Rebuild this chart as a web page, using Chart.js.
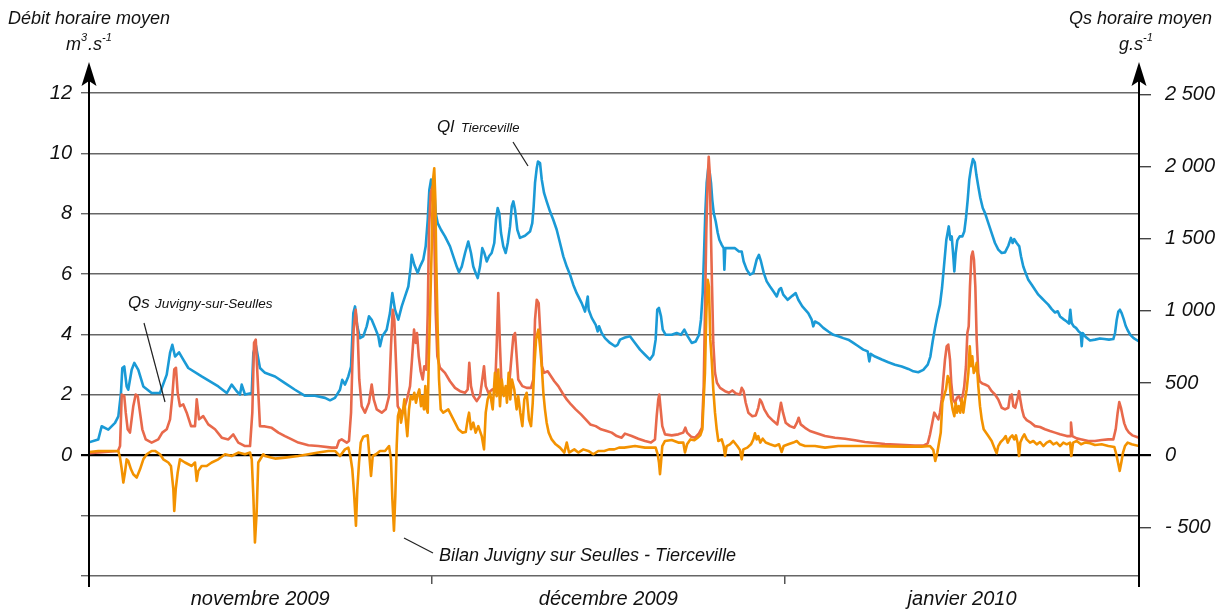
<!DOCTYPE html>
<html>
<head>
<meta charset="utf-8">
<title>Débit et flux Seulles</title>
<script src="https://cdn.jsdelivr.net/npm/chart.js@4/dist/chart.umd.min.js"></script>
<style>
  html, body { margin: 0; padding: 0; background: #fff; }
</style>
</head>
<body>
<canvas id="seullesChart" width="1229" height="612"></canvas>
<script>
// temps en jours depuis le 1er novembre 2009
const qlDays = [0,0.81,1.11,1.69,2.28,2.57,2.80,2.92,3.09,3.30,3.44,3.74,3.97,4.32,4.76,5.49,6.22,6.81,7.10,7.30,7.54,7.89,8.26,8.70,9.87,11.33,12.07,12.50,12.94,13.23,13.38,13.67,14.26,14.40,14.61,14.98,15.42,16.30,17.17,18.05,18.93,19.80,20.68,21.12,21.55,21.99,22.19,22.43,22.72,22.96,23.16,23.31,23.51,23.74,24.03,24.33,24.53,24.77,25.06,25.35,25.50,25.70,26.08,26.37,26.58,26.81,27.10,27.40,27.69,27.98,28.19,28.27,28.50,28.80,29.00,29.29,29.50,29.68,29.82,29.97,30.12,30.23,30.38,30.55,30.84,31.19,31.63,31.92,32.22,32.42,32.66,32.95,33.23,33.47,33.67,33.88,34.06,34.26,34.46,34.64,34.85,35.05,35.28,35.51,35.66,35.81,35.95,36.10,36.30,36.51,36.69,36.89,37.04,37.18,37.33,37.53,37.76,38.20,38.64,38.84,38.96,39.08,39.23,39.34,39.52,39.67,39.87,40.10,40.39,40.68,40.98,41.27,41.56,41.86,42.15,42.43,42.73,43.17,43.46,43.70,43.78,44.05,44.40,44.57,44.69,44.92,45.21,45.65,46.09,46.32,46.53,46.96,47.40,47.84,48.28,48.72,49.15,49.44,49.65,49.79,49.94,50.12,50.27,50.53,51.06,51.49,51.87,52.16,52.46,52.81,53.16,53.45,53.62,53.77,53.89,54.00,54.12,54.26,54.39,54.50,54.61,54.74,54.91,55.09,55.23,55.44,55.61,55.67,55.75,56.16,56.60,56.95,57.19,57.36,57.63,57.92,58.21,58.50,58.70,58.88,59.12,59.38,59.67,59.96,60.26,60.46,60.63,60.83,61.22,61.62,61.92,62.15,62.50,63.02,63.32,63.46,63.61,63.96,64.34,64.78,65.22,65.65,66.09,66.53,66.97,67.41,67.84,68.23,68.37,68.49,68.87,69.46,70.03,70.62,71.21,71.79,72.23,72.66,73.10,73.49,73.72,73.92,74.13,74.36,74.56,74.74,74.91,75.12,75.33,75.47,75.59,75.73,75.82,75.94,76.08,76.29,76.52,76.69,76.84,76.99,77.13,77.28,77.45,77.61,77.75,77.92,78.10,78.31,78.51,78.80,79.09,79.38,79.67,79.97,80.26,80.55,80.78,80.93,81.07,81.28,81.51,81.66,81.86,82.07,82.30,82.60,82.89,83.18,83.47,83.76,84.05,84.35,84.64,84.88,85.08,85.37,85.67,85.87,85.98,86.10,86.28,86.48,86.72,86.89,86.98,87.07,87.33,87.71,88.14,88.58,88.96,89.37,89.75,89.90,90.05,90.19,90.33,90.48,90.66,90.83,91.01,91.24,91.53,92.00];
// Ql Tierceville, m3/s
const qlFlow = [0.43,0.52,0.96,0.85,1.07,1.29,2.06,2.89,2.94,2.28,2.17,2.83,3.06,2.83,2.28,2.06,2.06,2.67,3.39,3.66,3.27,3.41,3.17,2.89,2.61,2.28,2.06,2.34,2.12,2.01,2.34,2.01,2.06,3.39,3.66,2.89,2.73,2.61,2.39,2.17,1.97,1.97,1.90,1.82,1.90,2.17,2.50,2.34,2.61,2.94,4.71,4.93,4.27,3.88,3.94,4.27,4.60,4.49,4.22,3.94,3.61,3.94,4.16,4.71,5.37,4.82,4.49,4.93,5.26,5.59,6.25,6.64,6.31,6.04,6.25,6.48,6.92,7.80,8.79,9.13,8.69,8.90,8.02,7.69,7.47,7.25,6.92,6.59,6.25,6.06,6.25,6.70,7.08,6.70,6.25,6.04,5.87,6.25,6.86,6.70,6.42,6.59,6.70,7.03,7.80,8.19,8.02,7.36,6.92,6.70,7.03,7.58,8.24,8.41,8.13,7.47,7.20,7.27,7.41,7.69,8.24,9.02,9.51,9.73,9.68,9.13,8.69,8.41,8.08,7.80,7.47,7.03,6.59,6.25,5.98,5.65,5.37,5.04,4.76,5.26,4.82,4.55,4.32,4.10,4.27,4.05,3.88,3.72,3.61,3.66,3.83,3.90,3.94,3.72,3.50,3.33,3.17,3.33,3.83,4.82,4.88,4.60,4.16,3.99,3.99,4.05,3.99,4.16,3.94,3.72,3.77,3.99,4.49,5.37,6.70,8.02,9.02,9.51,9.35,9.02,8.46,8.02,7.75,7.36,7.14,6.97,6.86,6.15,6.86,6.86,6.86,6.75,6.75,6.42,6.15,5.98,6.04,6.48,6.64,6.42,6.04,5.76,5.59,5.43,5.26,5.48,5.54,5.32,5.15,5.28,5.37,5.15,4.93,4.71,4.49,4.27,4.43,4.36,4.22,4.10,3.99,3.94,3.88,3.83,3.72,3.61,3.50,3.44,3.11,3.36,3.27,3.17,3.08,3.00,2.94,2.86,2.78,2.75,2.83,3.00,3.27,3.77,4.22,4.66,4.99,5.54,6.25,7.14,7.58,7.14,7.25,6.59,6.09,6.70,7.12,7.25,7.25,7.41,7.86,8.46,9.13,9.51,9.81,9.70,9.29,8.90,8.52,8.19,8.02,7.69,7.36,7.03,6.81,6.70,6.72,6.94,7.20,7.03,7.16,7.03,6.92,6.59,6.25,6.04,5.81,5.65,5.48,5.32,5.21,5.10,4.99,4.84,4.73,4.77,4.60,4.51,4.43,4.36,4.82,4.38,4.27,4.22,4.10,4.05,3.61,4.05,3.92,3.80,3.83,3.87,3.85,3.83,3.85,4.05,4.49,4.76,4.82,4.71,4.51,4.29,4.14,3.99,3.88,3.77];

const qsDays = [0,2.54,2.72,2.87,3.09,3.22,3.39,3.59,3.88,4.09,4.27,4.47,4.67,4.97,5.49,6.07,6.42,6.81,7.10,7.30,7.47,7.62,7.77,7.97,8.26,8.56,8.94,9.29,9.44,9.64,10.01,10.45,11.04,11.63,12.21,12.64,13.08,13.67,14.11,14.31,14.46,14.61,14.78,14.98,15.42,16.01,16.59,17.17,17.76,18.34,19.22,20.09,21.27,21.70,21.90,22.14,22.58,22.78,22.96,23.07,23.19,23.37,23.54,23.68,23.89,24.18,24.53,24.77,24.95,25.21,25.65,26.00,26.29,26.46,26.61,26.75,26.90,27.05,27.34,27.63,27.89,28.13,28.30,28.48,28.62,28.74,28.89,29.06,29.24,29.38,29.55,29.68,29.79,29.94,30.08,30.23,30.38,30.52,30.75,31.19,31.63,32.07,32.51,32.95,33.18,33.32,33.47,33.67,33.97,34.26,34.46,34.61,34.76,34.99,35.34,35.57,35.72,35.86,36.01,36.16,36.51,36.80,37.00,37.18,37.33,37.47,37.61,37.97,38.35,38.73,38.93,39.08,39.23,39.40,39.54,39.69,39.87,40.19,40.48,40.77,41.12,41.47,41.86,42.23,42.64,43.11,43.52,43.92,44.40,44.86,45.36,45.80,46.24,46.67,46.96,47.55,48.13,48.72,49.24,49.59,49.74,49.88,49.97,50.09,50.23,50.47,51.06,51.63,52.07,52.25,52.40,52.75,53.10,53.45,53.71,53.86,53.97,54.09,54.21,54.30,54.39,54.47,54.59,54.70,54.85,55.02,55.29,55.73,56.08,56.37,56.69,57.04,57.19,57.36,57.54,57.77,58.12,58.42,58.64,58.79,58.94,59.17,59.52,59.96,60.31,60.48,60.63,60.81,61.04,61.42,61.80,62.03,62.18,62.36,62.74,63.17,63.76,64.49,65.36,66.24,67.12,67.99,68.87,69.74,70.62,71.50,72.37,73.10,73.49,73.69,73.89,74.06,74.24,74.42,74.56,74.71,74.85,75.00,75.15,75.29,75.44,75.55,75.70,75.88,76.05,76.23,76.38,76.55,76.69,76.84,76.96,77.08,77.19,77.31,77.43,77.54,77.66,77.78,77.92,78.04,78.27,78.51,78.80,79.09,79.38,79.67,79.97,80.26,80.55,80.70,80.85,80.99,81.16,81.34,81.49,81.60,81.75,81.92,82.16,82.45,82.89,83.33,83.76,84.20,84.64,85.08,85.67,85.96,86.04,86.16,86.54,86.98,87.56,88.14,88.73,89.31,89.75,89.96,90.13,90.27,90.42,90.57,90.71,90.89,91.12,91.41,92.00];
// Qs Juvigny-sur-Seulles, g/s
const qsFlux = [15,30,64,421,410,295,180,157,340,421,410,295,180,110,88,110,157,180,249,410,594,606,433,340,352,295,202,202,387,249,271,214,180,122,110,145,88,64,64,295,778,801,525,202,200,190,157,133,110,88,69,64,53,53,99,110,88,99,295,617,870,1008,847,525,340,295,364,490,387,318,295,318,410,755,1008,939,640,340,295,329,398,479,663,870,778,847,686,582,525,617,594,985,1561,1814,1860,1630,985,686,606,571,513,467,444,433,456,640,479,410,375,410,525,617,479,433,456,444,755,1124,755,456,433,479,663,824,847,686,525,479,467,467,525,939,1077,1054,847,617,571,582,548,513,479,433,387,352,318,283,249,214,202,180,168,157,133,122,150,133,115,99,88,110,271,387,421,318,202,145,138,145,157,191,157,129,122,152,191,479,985,1561,1906,2067,1952,1630,1169,778,571,502,467,444,433,449,428,421,467,444,364,295,271,276,329,387,368,318,271,237,214,295,364,295,226,202,191,226,260,214,190,168,152,133,122,115,104,92,85,78,74,71,67,67,83,145,226,295,271,249,295,387,525,663,755,767,663,502,387,364,398,410,375,410,479,617,847,893,1169,1376,1411,1354,1169,801,571,513,497,490,479,444,421,387,329,318,329,410,421,340,329,387,444,387,318,267,244,230,202,196,180,168,157,145,133,133,226,133,117,110,99,99,106,110,110,180,295,368,329,271,221,184,157,138,122];

const bilanDays = [0,0.81,2.57,2.72,2.87,3.01,3.15,3.30,3.44,3.68,3.88,4.18,4.47,4.76,5.06,5.49,5.78,6.22,6.51,6.95,7.18,7.39,7.47,7.60,7.77,7.97,8.41,9.00,9.29,9.44,9.58,9.87,10.31,10.75,11.33,11.92,12.50,13.08,13.67,14.11,14.26,14.40,14.54,14.69,14.83,15.27,15.42,16.30,17.17,18.34,19.22,20.09,20.97,21.55,21.99,22.43,22.72,22.90,23.07,23.22,23.39,23.51,23.66,23.81,24.03,24.42,24.59,24.71,24.86,25.15,25.50,25.94,26.29,26.46,26.58,26.72,26.84,26.96,27.07,27.22,27.34,27.49,27.63,27.75,27.89,28.04,28.19,28.36,28.50,28.65,28.80,28.94,29.09,29.20,29.35,29.47,29.59,29.68,29.76,29.88,30.03,30.14,30.25,30.34,30.43,30.55,30.67,30.82,31.04,31.48,31.78,32.07,32.36,32.71,33.01,33.18,33.30,33.47,33.67,33.88,34.11,34.41,34.61,34.76,34.93,35.14,35.37,35.57,35.72,35.86,36.01,36.16,36.34,36.51,36.62,36.77,36.91,37.06,37.26,37.47,37.61,37.79,37.97,38.14,38.35,38.55,38.73,38.88,39.02,39.17,39.37,39.52,39.67,39.81,39.95,40.10,40.28,40.54,40.89,41.27,41.65,41.86,42.06,42.52,42.87,43.31,43.75,44.19,44.62,45.15,45.56,46.03,46.44,46.90,47.84,48.72,49.65,49.83,49.94,50.03,50.12,50.23,50.47,51.06,51.63,52.07,52.22,52.40,52.69,53.04,53.33,53.56,53.74,53.86,53.97,54.09,54.21,54.32,54.44,54.56,54.70,54.85,55.00,55.14,55.44,55.61,55.73,55.87,56.16,56.45,56.80,57.04,57.19,57.33,57.68,58.00,58.21,58.35,58.50,58.64,58.82,59.03,59.29,59.67,60.11,60.46,60.69,60.87,61.27,61.71,62.01,62.30,62.74,63.61,64.49,65.65,67.12,68.58,70.03,71.50,72.96,73.69,73.98,74.15,74.33,74.48,74.63,74.77,74.91,75.09,75.24,75.38,75.53,75.67,75.82,75.94,76.05,76.20,76.34,76.47,76.61,76.76,76.90,77.05,77.17,77.28,77.39,77.52,77.66,77.78,77.92,78.07,78.22,78.39,78.80,79.09,79.38,79.53,79.67,79.88,80.11,80.32,80.50,80.70,80.90,81.07,81.22,81.37,81.49,81.60,81.78,81.95,82.16,82.45,82.74,83.04,83.33,83.62,83.91,84.20,84.49,84.79,85.08,85.37,85.67,85.96,86.07,86.22,86.54,86.92,87.27,87.71,88.14,88.73,89.31,89.84,90.01,90.16,90.31,90.45,90.60,90.77,91.01,91.36,92.00];
// Bilan Juvigny sur Seulles - Tierceville, g/s
const bilanFlux = [23,30,30,-16,-97,-189,-120,-28,-39,-97,-131,-154,-97,-28,7,30,30,7,-28,-50,-74,-235,-385,-235,-120,-28,-50,-74,-50,-177,-108,-74,-74,-50,-28,7,-5,19,7,19,-28,-281,-603,-396,-50,7,-5,-23,-16,-5,7,19,30,30,-5,41,53,-5,-97,-258,-488,-235,-50,88,129,138,-28,-143,-5,7,30,30,64,-28,-304,-523,-281,64,271,318,226,295,387,249,133,318,410,387,433,364,421,456,340,410,318,479,318,295,617,985,1445,1906,1987,1791,1331,870,525,318,295,318,271,226,180,157,161,249,295,180,226,157,202,133,41,295,387,433,318,571,410,594,340,525,410,479,364,571,387,525,456,318,410,295,202,387,433,249,202,364,617,801,870,755,617,433,318,226,157,110,76,53,19,88,19,41,19,41,30,7,30,30,41,41,53,53,64,53,53,7,-50,-131,-50,64,99,106,88,88,19,76,110,104,122,138,180,387,571,985,1215,1169,801,663,456,295,180,99,110,64,-5,64,76,99,64,37,-28,41,53,76,110,152,110,133,88,115,88,76,64,76,23,64,76,88,99,76,64,64,53,64,64,64,62,60,60,64,37,-39,19,88,157,364,410,456,548,525,387,318,271,364,295,340,295,387,295,387,456,571,755,617,686,571,594,640,479,340,249,180,133,99,41,14,64,92,110,133,88,122,138,110,138,83,-5,88,122,145,110,88,99,76,92,64,88,99,76,88,64,88,76,88,-5,88,99,76,88,83,71,76,64,57,7,-50,-108,-50,19,64,88,76,64];

// axes
const monthBounds = [0, 30, 61, 92];
const monthMids = [15, 45.5, 76.5];
const monthNames = ['novembre 2009', 'décembre 2009', 'janvier 2010'];
const leftTicks = [-4, -2, 0, 2, 4, 6, 8, 10, 12];
const rightTicks = [-500, 0, 500, 1000, 1500, 2000, 2500];

const FONT = '"Liberation Sans", Arial, Helvetica, sans-serif';

function toPoints(xs, ys) {
  return xs.map((x, i) => ({x: x, y: ys[i]}));
}

function fmtThousands(v) {
  let s = String(Math.abs(v)).replace(/\B(?=(\d{3})+(?!\d))/g, ' ');
  return v < 0 ? '- ' + s : s;
}

// texte avec exposants : [texte, estExposant]
function drawUnit(ctx, parts, x, y) {
  let cx = x;
  parts.forEach(p => {
    ctx.font = p[1] ? 'italic 11px ' + FONT : 'italic 18px ' + FONT;
    ctx.fillText(p[0], cx, p[1] ? y - 9 : y);
    cx += ctx.measureText(p[0]).width + (p[1] ? 1 : 0);
  });
}

const decorPlugin = {
  id: 'decor',
  afterDraw(chart) {
    const ctx = chart.ctx;
    const a = chart.chartArea;
    ctx.save();

    // axes verticaux avec flèches
    ctx.strokeStyle = '#000';
    ctx.fillStyle = '#000';
    ctx.lineWidth = 2;
    [a.left, a.right].forEach(x => {
      ctx.beginPath();
      ctx.moveTo(x, 78);
      ctx.lineTo(x, 587);
      ctx.stroke();
      ctx.beginPath();
      ctx.moveTo(x, 62);
      ctx.lineTo(x - 7.5, 86);
      ctx.lineTo(x, 81);
      ctx.lineTo(x + 7.5, 86);
      ctx.closePath();
      ctx.fill();
    });

    // titres des axes
    ctx.fillStyle = '#111';
    ctx.textBaseline = 'alphabetic';
    ctx.textAlign = 'left';
    ctx.font = 'italic 18px ' + FONT;
    ctx.fillText('Débit horaire moyen', 8, 24);
    ctx.textAlign = 'right';
    ctx.fillText('Qs horaire moyen', 1212, 24);
    ctx.textAlign = 'left';
    drawUnit(ctx, [['m', 0], ['3', 1], ['.s', 0], ['-1', 1]], 66, 50);
    drawUnit(ctx, [['g.s', 0], ['-1', 1]], 1119, 50);

    // étiquettes des courbes
    ctx.font = 'italic 17px ' + FONT;
    ctx.fillText('Ql', 437, 132);
    ctx.font = 'italic 13px ' + FONT;
    ctx.fillText('Tierceville', 461, 132);

    ctx.font = 'italic 17px ' + FONT;
    ctx.fillText('Qs', 128, 308);
    ctx.font = 'italic 13.5px ' + FONT;
    ctx.fillText('Juvigny-sur-Seulles', 155, 308);

    ctx.font = 'italic 18px ' + FONT;
    ctx.fillText('Bilan Juvigny sur Seulles - Tierceville', 439, 561);

    // traits de rappel
    ctx.strokeStyle = '#222';
    ctx.lineWidth = 1.2;
    [[513, 142, 528, 166], [144, 323, 165, 402], [404, 538, 433, 553]].forEach(l => {
      ctx.beginPath();
      ctx.moveTo(l[0], l[1]);
      ctx.lineTo(l[2], l[3]);
      ctx.stroke();
    });

    ctx.restore();
  }
};

const ctx = document.getElementById('seullesChart').getContext('2d');
const myChart = new Chart(ctx, {
  type: 'line',
  data: {
    datasets: [
      {
        label: 'Bilan Juvigny sur Seulles - Tierceville',
        data: toPoints(bilanDays, bilanFlux),
        yAxisID: 'y2',
        borderColor: '#f39200',
        borderWidth: 2.6,
        order: 0
      },
      {
        label: 'Qs Juvigny-sur-Seulles',
        data: toPoints(qsDays, qsFlux),
        yAxisID: 'y2',
        borderColor: '#e8694b',
        borderWidth: 2.6,
        order: 1
      },
      {
        label: 'Ql Tierceville',
        data: toPoints(qlDays, qlFlow),
        yAxisID: 'y',
        borderColor: '#1a9ad6',
        borderWidth: 2.6,
        order: 2
      }
    ]
  },
  options: {
    responsive: false,
    animation: false,
    devicePixelRatio: 1,
    layout: { padding: { top: 93, left: 0, right: 0, bottom: 0 } },
    elements: {
      point: { radius: 0 },
      line: { tension: 0, borderJoinStyle: 'round', borderCapStyle: 'round' }
    },
    plugins: {
      legend: { display: false },
      tooltip: { enabled: false }
    },
    scales: {
      x: {
        type: 'linear',
        min: 0,
        max: 92,
        afterBuildTicks: s => {
          s.ticks = monthBounds.concat(monthMids).sort((p, q) => p - q).map(v => ({value: v}));
        },
        afterFit: s => { s.height = 36; },
        border: { display: false },
        grid: {
          drawOnChartArea: false,
          drawTicks: true,
          tickLength: 8,
          lineWidth: 1.5,
          color: c => (c.tick && monthBounds.includes(c.tick.value)) ? '#555' : 'rgba(0,0,0,0)'
        },
        ticks: {
          autoSkip: false,
          maxRotation: 0,
          padding: 3,
          color: '#111',
          font: { family: FONT, size: 20, style: 'italic' },
          callback: v => {
            const i = monthMids.indexOf(v);
            return i >= 0 ? monthNames[i] : '';
          }
        }
      },
      y: {
        position: 'left',
        min: -4,
        max: 12,
        afterBuildTicks: s => { s.ticks = leftTicks.map(v => ({value: v})); },
        afterFit: s => { s.width = 89; },
        border: { display: false },
        grid: {
          drawTicks: true,
          tickLength: 8,
          color: c => (c.tick && c.tick.value === 0) ? '#000' : '#666',
          lineWidth: c => (c.tick && c.tick.value === 0) ? 2.2 : 1.4
        },
        ticks: {
          padding: 9,
          color: '#111',
          font: { family: FONT, size: 20, style: 'italic' },
          callback: v => v >= 0 ? String(v) : ''
        }
      },
      y2: {
        position: 'right',
        min: -836,
        max: 2509,
        afterBuildTicks: s => { s.ticks = rightTicks.map(v => ({value: v})); },
        afterFit: s => { s.width = 90; },
        border: { display: false },
        grid: {
          drawOnChartArea: false,
          drawTicks: true,
          tickLength: 12,
          color: c => (c.tick && c.tick.value === 0) ? '#000' : '#444',
          lineWidth: c => (c.tick && c.tick.value === 0) ? 2.2 : 1.4
        },
        ticks: {
          padding: 14,
          color: '#111',
          font: { family: FONT, size: 20, style: 'italic' },
          callback: v => fmtThousands(v)
        }
      }
    }
  },
  plugins: [decorPlugin]
});
</script>
</body>
</html>
